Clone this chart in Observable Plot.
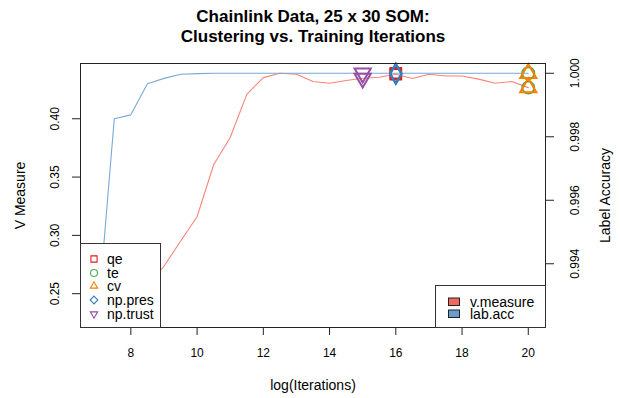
<!DOCTYPE html>
<html><head><meta charset="utf-8">
<script src="https://cdn.jsdelivr.net/npm/d3@7"></script>
<script src="https://cdn.jsdelivr.net/npm/@observablehq/plot@0.6"></script>
<style>
body{margin:0;background:#fff;font-family:"Liberation Sans",Arial,Helvetica,sans-serif;}
#wrap{position:relative;width:620px;height:398px;overflow:hidden;}
.legend{position:absolute;background:#fff;border:1px solid #333;box-sizing:border-box;font-size:14px;color:#000;}
.row{position:absolute;left:0;height:12px;white-space:nowrap;}
.row svg{position:absolute;top:-1px;}
.row span{position:absolute;top:0;display:inline-block;height:12px;line-height:12px;}
</style></head><body><div id="wrap"></div>
<script>
// ---- data ----
const iterations = [7, 7.5, 8, 8.5, 9, 9.5, 10, 10.5, 11, 11.5, 12, 12.5, 13, 13.5, 14, 14.5, 15, 15.5, 16, 16.5, 17, 17.5, 18, 18.5, 19, 19.5, 20];
const vMeasure = [0.2294, 0.236, 0.245, 0.258, 0.2735, 0.295, 0.316, 0.3606, 0.3839, 0.4209, 0.4353, 0.439, 0.4382, 0.4319, 0.4304, 0.4328, 0.4347, 0.4356, 0.4382, 0.4345, 0.4382, 0.4367, 0.4367, 0.434, 0.4304, 0.4319, 0.4267];
const labAcc = [0.9923, 0.99857, 0.99869, 0.99967, 0.99984, 0.99997, 0.99999, 1, 1, 1, 1, 1, 1, 1, 1, 1, 1, 1, 1, 1, 1, 1, 1, 1, 1, 1, 1];
const markerNames = ["qe", "te", "cv", "np.pres", "np.trust"];
const markerIter = [16, 20, 20, 16, 15];
const markerColors = ["#E41A1C", "#4DAF4A", "#FF7F00", "#377EB8", "#984EA3"];
const markerSymbols = ["square", "circle", "triangle", "diamond", "triangle"];
const markerRotate = [0, 0, 0, 0, 180];
const seriesNames = ["v.measure", "lab.acc"];
const seriesLineColors = ["#F8857C", "#7AA9D6"];
const seriesFillColors = ["#F2685E", "#6C9CCB"];
const xTicks = [8, 10, 12, 14, 16, 18, 20];
const leftTicks = [0.25, 0.30, 0.35, 0.40];
const rightTicks = [0.994, 0.996, 0.998, 1.000];
const titleLines = ["Chainlink Data, 25 x 30 SOM:", "Clustering vs. Training Iterations"];
const xLabel = "log(Iterations)";
const yLabel = "V Measure";
const y2Label = "Label Accuracy";

// ---- scales helpers ----
function padded(arr){const lo=d3.min(arr),hi=d3.max(arr),p=(hi-lo)*0.04;return [lo-p,hi+p];}
const xDom = padded(iterations);
const lDom = padded(vMeasure);
const rDom = padded(labAcc);
const toLeft = a => lDom[0] + (a - rDom[0]) / (rDom[1] - rDom[0]) * (lDom[1] - lDom[0]);

const rows = iterations.map((x, i) => ({x, v: vMeasure[i], a: toLeft(labAcc[i])}));

const font = '"Liberation Sans", Arial, Helvetica, sans-serif';
const markerMarks = [];
markerNames.forEach((name, i) => {
  const idx = iterations.indexOf(markerIter[i]);
  const pts = [{x: markerIter[i], y: vMeasure[idx]}, {x: markerIter[i], y: toLeft(labAcc[idx])}];
  markerMarks.push(Plot.dot(pts, {x: "x", y: "y", symbol: markerSymbols[i], stroke: markerColors[i], rotate: markerRotate[i], r: 6, strokeWidth: 2, fill: "none"}));
});

const T = (data, o) => Plot.text(data, Object.assign({fill: "#000", fontSize: 12, lineAnchor: "middle", textAnchor: "middle"}, o));

const chart = Plot.plot({
  width: 620, height: 398,
  marginLeft: 80, marginRight: 75, marginTop: 63, marginBottom: 71,
  x: {domain: xDom},
  y: {domain: lDom},
  style: {fontFamily: font, fontSize: "12px", background: "#fff", color: "#000"},
  marks: [
    Plot.line(rows, {x: "x", y: "v", stroke: seriesLineColors[0], strokeWidth: 1.1}),
    Plot.line(rows, {x: "x", y: "a", stroke: seriesLineColors[1], strokeWidth: 1.1}),
    ...markerMarks,
    Plot.frame({stroke: "#222"}),
    Plot.axisX({ticks: xTicks, tickSize: 8, tickPadding: 13, label: null, tickFormat: d => String(d), stroke: "#222", fontSize: 12}),
    Plot.axisY({ticks: leftTicks, tickSize: 8, tickFormat: () => "", label: null, stroke: "#222"}),
    T(leftTicks, {y: d => d, frameAnchor: "left", dx: -25, rotate: -90, text: d => d3.format(".2f")(d)}),
    Plot.axisY({anchor: "right", ticks: rightTicks.map(toLeft), tickSize: 8, tickFormat: () => "", label: null, stroke: "#222"}),
    T(rightTicks, {y: d => toLeft(d), frameAnchor: "right", dx: 30, rotate: -90, text: d => d3.format(".3f")(d)}),
    T([yLabel], {frameAnchor: "left", dx: -60, rotate: -90, text: d => d, fontSize: 14}),
    T([y2Label], {frameAnchor: "right", dx: 60, rotate: -90, text: d => d, fontSize: 14}),
    T([xLabel], {frameAnchor: "bottom", dy: 58, text: d => d, fontSize: 14}),
    T([titleLines[0]], {frameAnchor: "top", dy: -47, text: d => d, fontWeight: "bold", fontSize: 17}),
    T([titleLines[1]], {frameAnchor: "top", dy: -26.5, text: d => d, fontWeight: "bold", fontSize: 17})
  ]
});
const wrap = document.getElementById("wrap");
wrap.appendChild(chart);

// ---- legends ----
const symMap = {square: d3.symbolSquare, circle: d3.symbolCircle, triangle: d3.symbolTriangle2, diamond: d3.symbolDiamond2};
const leg1 = document.createElement("div");
leg1.className = "legend";
Object.assign(leg1.style, {left: "80px", top: "243px", width: "81px", height: "85px"});
markerNames.forEach((name, i) => {
  const row = document.createElement("div");
  row.className = "row";
  row.style.top = (9 + i * 13.7) + "px";
  const path = d3.symbol(symMap[markerSymbols[i]], 38)();
  row.innerHTML = `<svg width="14" height="14" style="left:6px"><path d="${path}" transform="translate(7,7) rotate(${markerRotate[i]})" fill="none" stroke="${markerColors[i]}" stroke-width="1.1"/></svg><span style="left:26px">${name}</span>`;
  leg1.appendChild(row);
});
wrap.appendChild(leg1);

const leg2 = document.createElement("div");
leg2.className = "legend";
Object.assign(leg2.style, {left: "435px", top: "285px", width: "111px", height: "43px"});
seriesNames.forEach((name, i) => {
  const row = document.createElement("div");
  row.className = "row";
  row.style.top = (9.5 + i * 12.5) + "px";
  row.innerHTML = `<svg width="14" height="14" style="left:12px"><rect x="0.5" y="3" width="11" height="7.5" fill="${seriesFillColors[i]}" stroke="#222" stroke-width="1"/></svg><span style="left:34px">${name}</span>`;
  leg2.appendChild(row);
});
wrap.appendChild(leg2);
</script></body></html>
